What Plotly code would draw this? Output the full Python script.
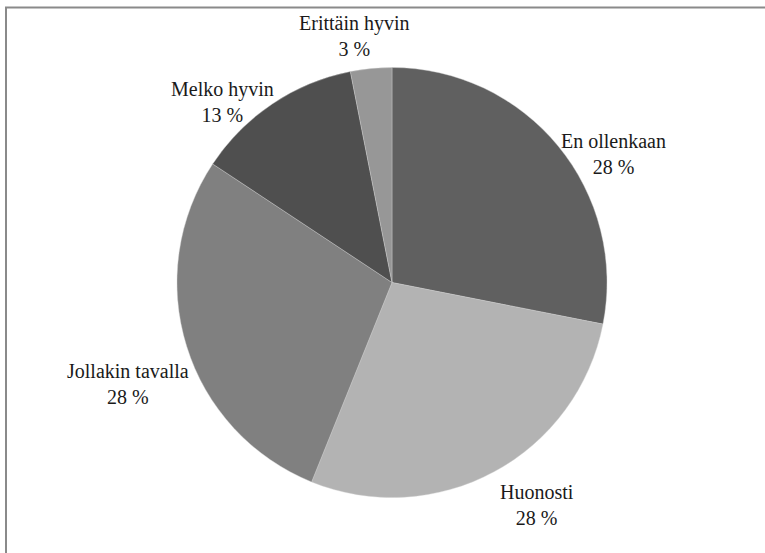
import plotly.graph_objects as go

# Data (clockwise from 12 o'clock)
categories = ["En ollenkaan", "Huonosti", "Jollakin tavalla", "Melko hyvin", "Erittäin hyvin"]
values = [28.1, 28.0, 28.2, 12.6, 3.1]
label_pct = ["28 %", "28 %", "28 %", "13 %", "3 %"]

# Styles / positions (not data)
colors = ["#606060", "#b3b3b3", "#808080", "#4f4f4f", "#979797"]
W, H = 765, 553
label_pos = [(613, 154), (537, 505), (128, 384), (222, 102), (354, 36)]  # pixel centers

cx, cy, r = 392, 282.5, 215
dom_x = [(cx - r) / W, (cx + r) / W]
dom_y = [1 - (cy + r) / H, 1 - (cy - r) / H]

fig = go.Figure(go.Pie(
    labels=categories,
    values=values,
    sort=False,
    direction="clockwise",
    rotation=0,
    marker=dict(colors=colors, line=dict(color="#d0d0d0", width=0.4)),
    textinfo="none",
    hoverinfo="label+percent",
    domain=dict(x=dom_x, y=dom_y),
    showlegend=False,
))

annotations = []
for name, pct, (px, py) in zip(categories, label_pct, label_pos):
    annotations.append(dict(
        x=px / W, y=1 - py / H, xref="paper", yref="paper",
        text=f"{name}<br>{pct}", showarrow=False,
        font=dict(family="Liberation Serif", size=20, color="#1a1a1a"),
        xanchor="center", yanchor="middle", align="center",
    ))

fig.update_layout(
    width=W, height=H,
    margin=dict(l=0, r=0, t=0, b=0),
    paper_bgcolor="white",
    plot_bgcolor="white",
    font=dict(family="Liberation Serif"),
    annotations=annotations,
    shapes=[dict(
        type="rect", xref="paper", yref="paper",
        x0=6 / W, x1=1.02, y0=-0.02, y1=1 - 7.5 / H,
        line=dict(color="#8a8a8a", width=2),
        fillcolor="rgba(0,0,0,0)",
    )],
)

fig.write_html("out.html", config={"displayModeBar": False},
               post_script="document.body.style.margin='0';")
